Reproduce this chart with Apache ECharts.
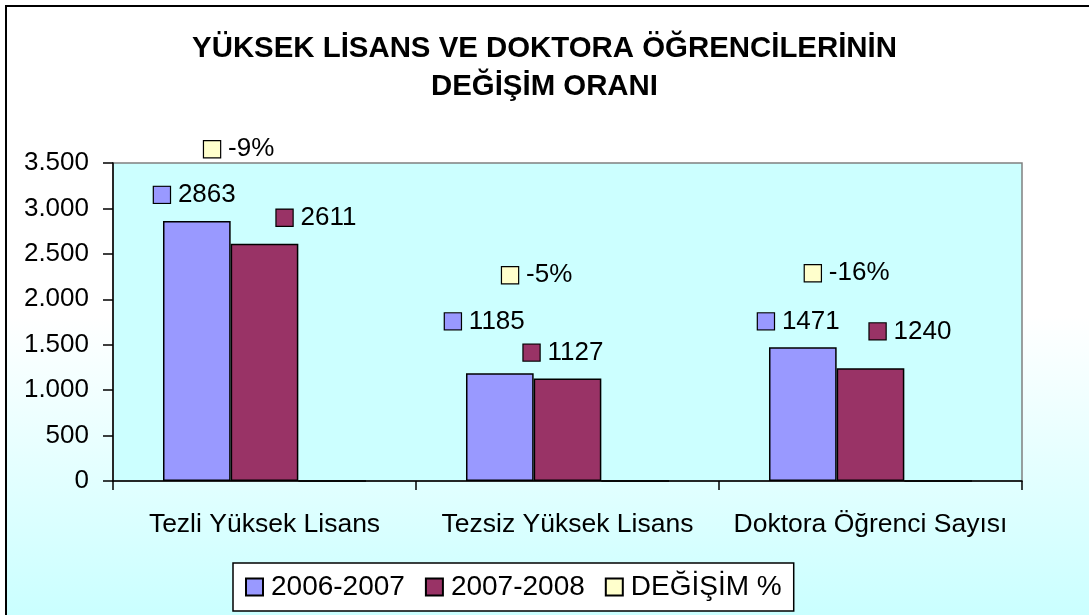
<!DOCTYPE html>
<html>
<head>
<meta charset="utf-8">
<script src="https://cdn.jsdelivr.net/npm/echarts@6/dist/echarts.min.js"></script>
<style>
html,body{margin:0;padding:0;background:#fff;}
#chart{width:1089px;height:615px;}
</style>
</head>
<body>
<div id="chart"></div>
<script>
// ---- data ----
const categories = ['Tezli Yüksek Lisans', 'Tezsiz Yüksek Lisans', 'Doktora Öğrenci Sayısı'];
const seriesNames = ['2006-2007', '2007-2008', 'DEĞİŞİM %'];
const values2006 = [2863, 1185, 1471];
const values2007 = [2611, 1127, 1240];
const changePct = [-9, -5, -16];
const yMin = 0, yMax = 3500, yStep = 500;

// ---- styles (label placements as in the original, manually dragged) ----
const colors = ['#9999ff', '#993366', '#ffffcc'];
const offs2006 = [[-2, -13], [-15, -39], [-4, -13]];
const offs2007 = [[52, -13], [-4, -13], [40, -24]];
const offsChange = [[-93, -318], [-98, -192], [-91, -194]];
const FONT = '"Liberation Sans", Arial, sans-serif';

function fmtThousands(v) {
  return String(v).replace(/\B(?=(\d{3})+(?!\d))/g, '.');
}
function richFor(color) {
  return {
    k: { width: 16, height: 16, backgroundColor: color, borderColor: '#000', borderWidth: 1.2 },
    t: { fontSize: 26, fontFamily: FONT, color: '#000', padding: [0, 0, 0, 8], lineHeight: 26 }
  };
}
function items(values, offs) {
  return values.map((v, i) => ({
    value: v,
    label: { offset: offs[i] }
  }));
}
function mkSeries(name, data, color, textFn) {
  return {
    name: name,
    type: 'bar',
    data: data,
    barGap: '0%',
    barCategoryGap: '33%',
    clip: false,
    itemStyle: { color: color, borderColor: '#000', borderWidth: 1.5 },
    label: {
      show: true,
      position: 'top',
      distance: 0,
      formatter: p => '{k|}{t|' + textFn(p.dataIndex) + '}',
      rich: richFor(color)
    },
    emphasis: { disabled: true }
  };
}

const chart = echarts.init(document.getElementById('chart'), null, { renderer: 'canvas' });
const option = {
  backgroundColor: '#fff',
  animation: false,
  graphic: [{
    type: 'rect',
    z: -10,
    silent: true,
    shape: { x: 6, y: 6, width: 1100, height: 620 },
    style: {
      fill: new echarts.graphic.LinearGradient(0, 0, 0, 1, [
        { offset: 0, color: '#ffffff' },
        { offset: 0.5, color: '#ffffff' },
        { offset: 1, color: '#c8ffff' }
      ]),
      stroke: '#000',
      lineWidth: 2
    }
  }],
  title: {
    text: 'YÜKSEK LİSANS VE DOKTORA ÖĞRENCİLERİNİN\nDEĞİŞİM ORANI',
    left: 'center',
    top: 25,
    textStyle: { fontFamily: FONT, fontSize: 29.4, fontWeight: 'bold', color: '#000', lineHeight: 38 }
  },
  legend: {
    left: 233,
    top: 563,
    padding: [8, 12, 8, 12],
    itemWidth: 17,
    itemHeight: 17,
    itemGap: 20,
    icon: 'rect',
    borderColor: '#000',
    borderWidth: 1.5,
    backgroundColor: '#fff',
    textStyle: { fontFamily: FONT, fontSize: 28, color: '#000', lineHeight: 32, padding: [0, 0, 0, 3] },
    data: seriesNames
  },
  grid: {
    left: 113, right: 67, top: 163, bottom: 134,
    show: true,
    backgroundColor: '#ccffff',
    borderColor: '#808080',
    borderWidth: 1.5
  },
  xAxis: {
    type: 'category',
    data: categories,
    axisLine: { show: true, lineStyle: { color: '#000', width: 1.5 } },
    axisTick: { show: true, alignWithLabel: false, length: 9, lineStyle: { color: '#000', width: 1.5 } },
    axisLabel: { fontFamily: FONT, fontSize: 26.5, color: '#000', margin: 30, interval: 0, hideOverlap: false },
    splitLine: { show: false }
  },
  yAxis: {
    type: 'value',
    min: yMin, max: yMax, interval: yStep,
    axisLine: { show: true, lineStyle: { color: '#000', width: 1.5 } },
    axisTick: { show: true, length: 10, lineStyle: { color: '#000', width: 1.5 } },
    axisLabel: { fontFamily: FONT, fontSize: 26, color: '#000', margin: 24, formatter: v => fmtThousands(v) },
    splitLine: { show: false }
  },
  series: [
    mkSeries(seriesNames[0], items(values2006, offs2006), colors[0], i => String(values2006[i])),
    mkSeries(seriesNames[1], items(values2007, offs2007), colors[1], i => String(values2007[i])),
    mkSeries(seriesNames[2], items(changePct.map(p => p / 100), offsChange), colors[2], i => changePct[i] + '%')
  ]
};
chart.setOption(option);
</script>
</body>
</html>
